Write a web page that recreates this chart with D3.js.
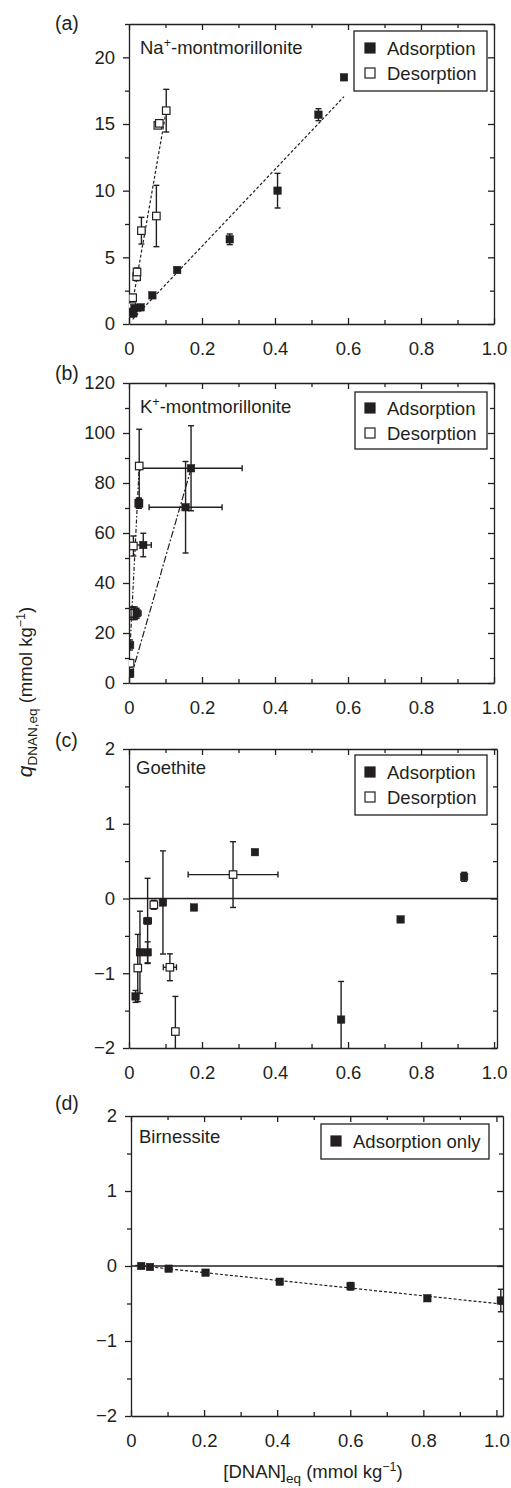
<!DOCTYPE html>
<html>
<head>
<meta charset="utf-8">
<script src="https://cdn.jsdelivr.net/npm/d3@7"></script>
<style>
  body { margin: 0; background: #fff; }
  svg { font-family: "Liberation Sans", Arial, sans-serif; }
  text { fill: #231f20; }
</style>
</head>
<body>
<script>
// ---- data ----
// (a) Na+-montmorillonite
const naAdsX = [0.005, 0.012, 0.015, 0.032, 0.064, 0.132, 0.276, 0.407, 0.519, 0.589];
const naAdsY = [0.92, 0.8, 1.2, 1.25, 2.15, 4.05, 6.35, 10.0, 15.7, 18.5];
const naAdsYErr = [0.1, 0.1, 0.1, 0.15, 0.15, 0.15, 0.4, 1.3, 0.45, 0.2];
const naDesX = [0.003, 0.008, 0.010, 0.021, 0.022, 0.034, 0.075, 0.079, 0.083, 0.102];
const naDesY = [0.8, 1.3, 1.97, 3.55, 3.9, 7.0, 8.1, 14.9, 15.05, 16.0];
const naDesYErr = [0.1, 0.1, 0.25, 0.3, 0.3, 1.0, 2.3, 0.2, 0.2, 1.6];
const naAdsFitX = [0.01, 0.589], naAdsFitY = [0.35, 17.05];
const naDesFitX = [0.003, 0.101], naDesFitY = [0.55, 15.85];

// (b) K+-montmorillonite
const kAdsX = [0.003, 0.003, 0.021, 0.027, 0.039, 0.155, 0.170];
const kAdsY = [3.9, 15.2, 27.9, 71.9, 55.2, 70.3, 85.9];
const kAdsYErr = [1.5, 2, 2, 2, 4.7, 18.3, 17];
const kAdsXErr = [0, 0, 0.012, 0, 0.022, 0.10, 0.14];
const kDesX = [0.002, 0.003, 0.006, 0.012, 0.016, 0.012, 0.027, 0.028];
const kDesY = [3.9, 7.9, 27.9, 27.9, 27.9, 54.8, 71.9, 86.8];
const kDesYErr = [1, 1.5, 2.5, 2.5, 2.5, 4, 2, 14.7];
const kDesXErr = [0, 0, 0, 0, 0, 0, 0, 0];
const kAdsFitX = [0.007, 0.169], kAdsFitY = [3.2, 85.2];
const kDesFitX = [0.003, 0.028], kDesFitY = [14.5, 86.5];

// (c) Goethite
const goAdsX = [0.018, 0.030, 0.051, 0.051, 0.093, 0.178, 0.345, 0.581, 0.744, 0.918];
const goAdsY = [-1.31, -0.72, -0.72, -0.30, -0.053, -0.12, 0.62, -1.62, -0.28, 0.29];
const goAdsYErr = [0.08, 0.55, 0.14, 0.57, 0.69, 0.03, 0.03, 0.51, 0.03, 0.06];
const goAdsXErr = [0, 0.008, 0.008, 0.01, 0, 0, 0, 0, 0, 0];
const goDesX = [0.024, 0.068, 0.112, 0.127, 0.285];
const goDesY = [-0.93, -0.084, -0.92, -1.78, 0.32];
const goDesYErr = [0.45, 0.06, 0.18, 0.47, 0.44];
const goDesXErr = [0, 0.008, 0.018, 0, 0.123];

// (d) Birnessite
const biAdsX = [0.028, 0.052, 0.103, 0.204, 0.407, 0.601, 0.811, 1.012];
const biAdsY = [0.0, -0.013, -0.036, -0.089, -0.21, -0.27, -0.43, -0.46];
const biAdsYErr = [0.02, 0.02, 0.02, 0.02, 0.03, 0.05, 0.03, 0.15];
const biFitX = [0.012, 1.02], biFitY = [0.009, -0.51];

const xTicks = [0, 0.2, 0.4, 0.6, 0.8, 1.0];
const xMinor = [0.1, 0.3, 0.5, 0.7, 0.9];
const xTickLabels = ["0", "0.2", "0.4", "0.6", "0.8", "1.0"];

const ink = "#231f20";
const W = 511, H = 1488;
const fontSize = "18.5px";

let svg = d3.select("body").append("svg")
  .attr("width", W).attr("height", H);

function zip(xs, ys, ye, xe) {
  return xs.map((x, i) => ({ x: x, y: ys[i], ye: ye ? ye[i] : 0, xe: xe ? xe[i] : 0 }));
}

let fmtY = d => (d < 0 ? "\u2212" + Math.abs(d) : String(d));

function drawPanel(p) {
  let x = d3.scaleLinear().domain([0, p.xMax]).range([p.left, p.right]);
  let y = d3.scaleLinear().domain(p.yDomain).range([p.bottom, p.top]);
  let g = svg.append("g");

  let clipId = "clip" + p.id;
  svg.append("clipPath").attr("id", clipId)
    .append("rect").attr("x", p.left).attr("y", p.top)
    .attr("width", p.right - p.left).attr("height", p.bottom - p.top);

  // axes: left/bottom labelled, top/right ticks only
  let styleAxis = sel => {
    sel.selectAll("path, line").attr("stroke", ink).attr("stroke-width", 1.3);
    sel.selectAll("text").attr("fill", ink).style("font-size", fontSize)
      .style("font-family", '"Liberation Sans", Arial, sans-serif');
  };

  g.append("g").attr("transform", `translate(0,${p.bottom})`)
    .call(d3.axisBottom(x).tickValues(xTicks).tickSizeInner(-6).tickSizeOuter(0)
      .tickPadding(17.5).tickFormat((d, i) => xTickLabels[i]))
    .call(styleAxis);
  g.append("g").attr("transform", `translate(0,${p.bottom})`)
    .call(d3.axisBottom(x).tickValues(xMinor).tickSizeInner(-4).tickSizeOuter(0).tickFormat(""))
    .call(styleAxis).select(".domain").remove();
  g.append("g").attr("transform", `translate(0,${p.top})`)
    .call(d3.axisTop(x).tickValues(xTicks).tickSizeInner(-6).tickSizeOuter(0).tickFormat(""))
    .call(styleAxis);
  g.append("g").attr("transform", `translate(0,${p.top})`)
    .call(d3.axisTop(x).tickValues(xMinor).tickSizeInner(-4).tickSizeOuter(0).tickFormat(""))
    .call(styleAxis).select(".domain").remove();

  g.append("g").attr("transform", `translate(${p.left},0)`)
    .call(d3.axisLeft(y).tickValues(p.yTicks).tickSizeInner(6).tickSizeOuter(0)
      .tickPadding(8).tickFormat(fmtY))
    .call(styleAxis);
  g.append("g").attr("transform", `translate(${p.left},0)`)
    .call(d3.axisLeft(y).tickValues(p.yMinor).tickSizeInner(4).tickSizeOuter(0).tickFormat(""))
    .call(styleAxis).select(".domain").remove();
  g.append("g").attr("transform", `translate(${p.right},0)`)
    .call(d3.axisRight(y).tickValues(p.yTicks).tickSizeInner(-6).tickSizeOuter(0).tickFormat(""))
    .call(styleAxis);
  g.append("g").attr("transform", `translate(${p.right},0)`)
    .call(d3.axisRight(y).tickValues(p.yMinor).tickSizeInner(-4).tickSizeOuter(0).tickFormat(""))
    .call(styleAxis).select(".domain").remove();

  let plot = g.append("g").attr("clip-path", `url(#${clipId})`);

  if (p.zeroLine) {
    plot.append("line")
      .attr("x1", p.left).attr("x2", p.right)
      .attr("y1", y(0)).attr("y2", y(0))
      .attr("stroke", ink).attr("stroke-width", 1.6);
  }

  let line = d3.line().x(d => x(d[0])).y(d => y(d[1]));
  (p.fits || []).forEach(f => {
    plot.append("path")
      .attr("d", line(f.xs.map((v, i) => [v, f.ys[i]])))
      .attr("fill", "none").attr("stroke", ink).attr("stroke-width", 1.2)
      .attr("stroke-dasharray", f.dash);
  });

  let cap = 3;
  p.series.forEach(s => {
    let eb = plot.append("g").attr("stroke", ink).attr("stroke-width", 1.4);
    s.data.filter(d => d.ye > 0).forEach(d => {
      eb.append("line").attr("x1", x(d.x)).attr("x2", x(d.x))
        .attr("y1", y(d.y - d.ye)).attr("y2", y(d.y + d.ye));
      [d.y - d.ye, d.y + d.ye].forEach(v => {
        eb.append("line").attr("x1", x(d.x) - cap).attr("x2", x(d.x) + cap)
          .attr("y1", y(v)).attr("y2", y(v));
      });
    });
    s.data.filter(d => d.xe > 0).forEach(d => {
      eb.append("line").attr("y1", y(d.y)).attr("y2", y(d.y))
        .attr("x1", x(d.x - d.xe)).attr("x2", x(d.x + d.xe));
      [d.x - d.xe, d.x + d.xe].forEach(v => {
        eb.append("line").attr("y1", y(d.y) - cap).attr("y2", y(d.y) + cap)
          .attr("x1", x(v)).attr("x2", x(v));
      });
    });
  });
  p.series.forEach(s => {
    plot.selectAll(null).data(s.data).enter().append("rect")
      .attr("x", d => x(d.x) - 3.75).attr("y", d => y(d.y) - 3.75)
      .attr("width", 7.5).attr("height", 7.5)
      .attr("fill", s.open ? "#fff" : ink)
      .attr("stroke", ink).attr("stroke-width", s.open ? 1.2 : 0.5);
  });

  // panel letter and mineral name
  svg.append("text").attr("x", 55).attr("y", p.letterY)
    .attr("dy", "0.35em").style("font-size", "19.5px").text(p.letter);
  let t = svg.append("text").attr("x", p.nameX).attr("y", p.nameY).style("font-size", fontSize);
  t.append("tspan").text(p.name[0]);
  if (p.name.length > 1) {
    t.append("tspan").attr("dy", -7).style("font-size", "12.5px").text(p.name[1]);
    t.append("tspan").attr("dy", 7).text(p.name[2]);
  }

  // legend
  let L = p.legend;
  svg.append("rect").attr("x", L.x).attr("y", L.y).attr("width", L.w).attr("height", L.h)
    .attr("fill", "#fff").attr("stroke", ink).attr("stroke-width", 1.3);
  L.items.forEach((it, i) => {
    let cy = L.y + L.first + i * 25;
    svg.append("rect").attr("x", L.sx - 5).attr("y", cy - 5).attr("width", 10).attr("height", 10)
      .attr("fill", it.open ? "#fff" : ink).attr("stroke", ink).attr("stroke-width", 1.2);
    svg.append("text").attr("x", L.tx).attr("y", cy).attr("dy", "0.36em")
      .style("font-size", fontSize).text(it.label);
  });
}

let adsDes = [{ label: "Adsorption", open: false }, { label: "Desorption", open: true }];

drawPanel({
  id: "a", left: 129, right: 494, top: 24, bottom: 324, xMax: 1.0, yDomain: [0, 22.5],
  yTicks: [0, 5, 10, 15, 20], yMinor: [2.5, 7.5, 12.5, 17.5, 22.5],
  letter: "(a)", letterY: 23, name: ["Na", "+", "-montmorillonite"], nameX: 140, nameY: 54,
  legend: { x: 354, y: 31, w: 133, h: 60, first: 17, sx: 370, tx: 387, items: adsDes },
  fits: [{ xs: naAdsFitX, ys: naAdsFitY, dash: "3,2" }, { xs: naDesFitX, ys: naDesFitY, dash: "3,2" }],
  series: [{ data: zip(naDesX, naDesY, naDesYErr), open: true },
           { data: zip(naAdsX, naAdsY, naAdsYErr), open: false }]
});

drawPanel({
  id: "b", left: 129, right: 494, top: 383, bottom: 683, xMax: 1.0, yDomain: [0, 120],
  yTicks: [0, 20, 40, 60, 80, 100, 120], yMinor: [10, 30, 50, 70, 90, 110],
  letter: "(b)", letterY: 373, name: ["K", "+", "-montmorillonite"], nameX: 140, nameY: 413,
  legend: { x: 355, y: 392, w: 132, h: 57, first: 16, sx: 370, tx: 387, items: adsDes },
  fits: [{ xs: kAdsFitX, ys: kAdsFitY, dash: "7,2,2,2" }, { xs: kDesFitX, ys: kDesFitY, dash: "4,2,1.5,2" }],
  series: [{ data: zip(kDesX, kDesY, kDesYErr, kDesXErr), open: true },
           { data: zip(kAdsX, kAdsY, kAdsYErr, kAdsXErr), open: false }]
});

drawPanel({
  id: "c", left: 129, right: 497, top: 749, bottom: 1048, xMax: 1.008, yDomain: [-2, 2],
  yTicks: [-2, -1, 0, 1, 2], yMinor: [-1.5, -0.5, 0.5, 1.5], zeroLine: true,
  letter: "(c)", letterY: 740, name: ["Goethite"], nameX: 136, nameY: 774,
  legend: { x: 355, y: 755, w: 132, h: 60, first: 17, sx: 370, tx: 387, items: adsDes },
  fits: [],
  series: [{ data: zip(goAdsX, goAdsY, goAdsYErr, goAdsXErr), open: false },
           { data: zip(goDesX, goDesY, goDesYErr, goDesXErr), open: true }]
});

drawPanel({
  id: "d", left: 131, right: 503, top: 1116, bottom: 1416, xMax: 1.018, yDomain: [-2, 2],
  yTicks: [-2, -1, 0, 1, 2], yMinor: [-1.5, -0.5, 0.5, 1.5], zeroLine: true,
  letter: "(d)", letterY: 1103, name: ["Birnessite"], nameX: 139, nameY: 1143,
  legend: { x: 321, y: 1124, w: 168, h: 35, first: 17, sx: 336, tx: 353,
            items: [{ label: "Adsorption only", open: false }] },
  fits: [{ xs: biFitX, ys: biFitY, dash: "3,2" }],
  series: [{ data: zip(biAdsX, biAdsY, biAdsYErr), open: false }]
});

// y axis title
let yt = svg.append("text").attr("transform", "translate(32,692) rotate(-90)")
  .attr("text-anchor", "middle").style("font-size", fontSize);
yt.append("tspan").style("font-style", "italic").style("font-size", "21px").text("q");
yt.append("tspan").attr("dy", 5).style("font-size", "13.5px").text("DNAN,eq");
yt.append("tspan").attr("dy", -5).text(" (mmol kg");
yt.append("tspan").attr("dy", -7).style("font-size", "12.5px").text("\u22121");
yt.append("tspan").attr("dy", 7).text(")");

// x axis title
let xt = svg.append("text").attr("x", 313).attr("y", 1478)
  .attr("text-anchor", "middle").style("font-size", fontSize);
xt.append("tspan").text("[DNAN]");
xt.append("tspan").attr("dy", 5).style("font-size", "13.5px").text("eq");
xt.append("tspan").attr("dy", -5).text(" (mmol kg");
xt.append("tspan").attr("dy", -7).style("font-size", "12.5px").text("\u22121");
xt.append("tspan").attr("dy", 7).text(")");
</script>
</body>
</html>
